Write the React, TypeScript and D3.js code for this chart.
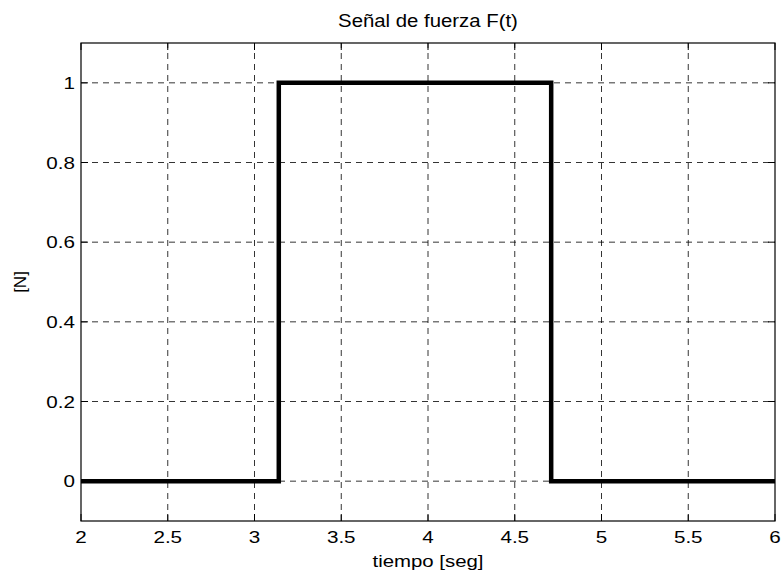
import React from "react";
import * as d3 from "d3";

// señal escalón: sube en t≈π, baja en t≈3π/2
const timeValues = [2, 3.14, 3.14, 4.71, 4.71, 6];
const forceValues = [0, 0, 1, 1, 0, 0];
const xTicks = [2, 2.5, 3, 3.5, 4, 4.5, 5, 5.5, 6];
const yTicks = [0, 0.2, 0.4, 0.6, 0.8, 1];

const W = 782;
const H = 572;
const margin = { left: 81, right: 7, top: 43, bottom: 51 };

// texto algo ensanchado, como el Helvetica de MATLAB
function Label(props: {
  x: number;
  y: number;
  size: number;
  sx?: number;
  anchor?: string;
  rotate?: number;
  children: React.ReactNode;
}) {
  const { x, y, size, sx = 1.22, anchor = "middle", rotate = 0 } = props;
  return (
    <text
      transform={`translate(${x},${y}) rotate(${rotate}) scale(${sx},1)`}
      textAnchor={anchor}
      fontSize={size}
      fill="#000"
    >
      {props.children}
    </text>
  );
}

export default function App() {
  const x = d3
    .scaleLinear()
    .domain([2, 6])
    .range([margin.left, W - margin.right]);
  const y = d3
    .scaleLinear()
    .domain([-0.1, 1.1])
    .range([H - margin.bottom, margin.top]);

  const pts = timeValues.map((t, i) => [t, forceValues[i]] as [number, number]);
  const path = d3
    .line<[number, number]>()
    .x(d => x(d[0]))
    .y(d => y(d[1]))(pts);

  const x0 = margin.left;
  const x1 = W - margin.right;
  const y0 = H - margin.bottom;
  const y1 = margin.top;

  return (
    <svg
      width={W}
      height={H}
      style={{ position: "absolute", left: 0, top: 0, background: "#fff" }}
      fontFamily="Liberation Sans, Arial, sans-serif"
    >
      <rect x={0} y={0} width={W} height={H} fill="#fff" />
      {/* grid */}
      <g stroke="#000" strokeWidth={0.8} strokeDasharray="6,5">
        {xTicks.slice(1, -1).map(t => (
          <line key={"gx" + t} x1={x(t)} x2={x(t)} y1={y0} y2={y1} />
        ))}
        {yTicks.map(t => (
          <line key={"gy" + t} x1={x0} x2={x1} y1={y(t)} y2={y(t)} />
        ))}
      </g>
      {/* ticks */}
      <g stroke="#000" strokeWidth={1}>
        {xTicks.map(t => (
          <g key={"tx" + t}>
            <line x1={x(t)} x2={x(t)} y1={y0} y2={y0 - 7} />
            <line x1={x(t)} x2={x(t)} y1={y1} y2={y1 + 7} />
          </g>
        ))}
        {yTicks.map(t => (
          <g key={"ty" + t}>
            <line x1={x0} x2={x0 + 7} y1={y(t)} y2={y(t)} />
            <line x1={x1} x2={x1 - 7} y1={y(t)} y2={y(t)} />
          </g>
        ))}
      </g>
      <rect
        x={x0}
        y={y1}
        width={x1 - x0}
        height={y0 - y1}
        fill="none"
        stroke="#000"
        strokeWidth={1.2}
      />
      <path d={path ?? ""} fill="none" stroke="#000" strokeWidth={4.5} strokeLinejoin="miter" />
      {/* tick labels */}
      {xTicks.map(t => (
        <Label key={"lx" + t} x={x(t)} y={y0 + 22} size={16.5} sx={1.25}>
          {t}
        </Label>
      ))}
      {yTicks.map(t => (
        <Label key={"ly" + t} x={x0 - 6} y={y(t) + 6} size={16.5} sx={1.25} anchor="end">
          {t}
        </Label>
      ))}
      <Label x={(x0 + x1) / 2} y={27} size={18.5} sx={1.1}>
        Señal de fuerza F(t)
      </Label>
      <Label x={(x0 + x1) / 2} y={567} size={17} sx={1.2}>
        tiempo [seg]
      </Label>
      <Label x={26} y={(y0 + y1) / 2} size={17} sx={1} rotate={-90}>
        [N]
      </Label>
    </svg>
  );
}
